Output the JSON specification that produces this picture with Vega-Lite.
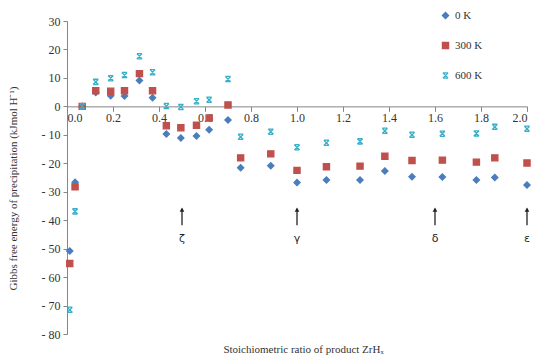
{
  "$schema": "https://vega.github.io/schema/vega-lite/v6.json",
  "width": 460,
  "height": 313,
  "autosize": {"type": "none"},
  "padding": {"left": 67, "top": 21, "right": 9, "bottom": 22},
  "background": "white",
  "config": {
    "view": {"stroke": null},
    "font": "Liberation Serif",
    "axis": {"grid": false, "domainColor": "#868686", "tickColor": "#868686", "labelColor": "#333333", "titleColor": "#333333", "labelFont": "Liberation Serif", "titleFont": "Liberation Serif", "titleFontWeight": "normal", "labelOverlap": false}
  },
  "datasets": {
    "points": [
      {"x": 0.012, "g": "0 K", "v": -50.8}, {"x": 0.035, "g": "0 K", "v": -26.7}, {"x": 0.066, "g": "0 K", "v": 0},
      {"x": 0.125, "g": "0 K", "v": 4.9}, {"x": 0.19, "g": "0 K", "v": 3.7}, {"x": 0.25, "g": "0 K", "v": 3.6},
      {"x": 0.315, "g": "0 K", "v": 9.1}, {"x": 0.372, "g": "0 K", "v": 3.0}, {"x": 0.432, "g": "0 K", "v": -9.7},
      {"x": 0.495, "g": "0 K", "v": -11.1}, {"x": 0.563, "g": "0 K", "v": -10.4}, {"x": 0.618, "g": "0 K", "v": -8.2},
      {"x": 0.7, "g": "0 K", "v": -4.8}, {"x": 0.755, "g": "0 K", "v": -21.6}, {"x": 0.886, "g": "0 K", "v": -20.9},
      {"x": 1.0, "g": "0 K", "v": -26.8}, {"x": 1.128, "g": "0 K", "v": -25.9}, {"x": 1.274, "g": "0 K", "v": -25.9},
      {"x": 1.382, "g": "0 K", "v": -22.7}, {"x": 1.5, "g": "0 K", "v": -24.7}, {"x": 1.632, "g": "0 K", "v": -24.8},
      {"x": 1.78, "g": "0 K", "v": -25.9}, {"x": 1.86, "g": "0 K", "v": -25.0}, {"x": 2.0, "g": "0 K", "v": -27.6},
      {"x": 0.012, "g": "300 K", "v": -55.2}, {"x": 0.035, "g": "300 K", "v": -28.3}, {"x": 0.066, "g": "300 K", "v": 0},
      {"x": 0.125, "g": "300 K", "v": 5.5}, {"x": 0.19, "g": "300 K", "v": 5.3}, {"x": 0.25, "g": "300 K", "v": 5.5},
      {"x": 0.315, "g": "300 K", "v": 11.5}, {"x": 0.372, "g": "300 K", "v": 5.5}, {"x": 0.432, "g": "300 K", "v": -6.8},
      {"x": 0.495, "g": "300 K", "v": -7.5}, {"x": 0.563, "g": "300 K", "v": -6.6}, {"x": 0.618, "g": "300 K", "v": -4.1},
      {"x": 0.7, "g": "300 K", "v": 0.5}, {"x": 0.755, "g": "300 K", "v": -18.1}, {"x": 0.886, "g": "300 K", "v": -16.7},
      {"x": 1.0, "g": "300 K", "v": -22.5}, {"x": 1.128, "g": "300 K", "v": -21.2}, {"x": 1.274, "g": "300 K", "v": -21.0},
      {"x": 1.382, "g": "300 K", "v": -17.5}, {"x": 1.5, "g": "300 K", "v": -19.0}, {"x": 1.632, "g": "300 K", "v": -18.9},
      {"x": 1.78, "g": "300 K", "v": -19.6}, {"x": 1.86, "g": "300 K", "v": -18.1}, {"x": 2.0, "g": "300 K", "v": -19.9},
      {"x": 0.012, "g": "600 K", "v": -71.5}, {"x": 0.035, "g": "600 K", "v": -36.9}, {"x": 0.066, "g": "600 K", "v": 0},
      {"x": 0.125, "g": "600 K", "v": 8.6}, {"x": 0.19, "g": "600 K", "v": 9.9}, {"x": 0.25, "g": "600 K", "v": 11.0},
      {"x": 0.315, "g": "600 K", "v": 17.6}, {"x": 0.372, "g": "600 K", "v": 12.0}, {"x": 0.432, "g": "600 K", "v": 0.1},
      {"x": 0.495, "g": "600 K", "v": -0.2}, {"x": 0.563, "g": "600 K", "v": 1.8}, {"x": 0.618, "g": "600 K", "v": 2.3},
      {"x": 0.7, "g": "600 K", "v": 9.6}, {"x": 0.755, "g": "600 K", "v": -10.7}, {"x": 0.886, "g": "600 K", "v": -8.9},
      {"x": 1.0, "g": "600 K", "v": -14.4}, {"x": 1.128, "g": "600 K", "v": -12.8}, {"x": 1.274, "g": "600 K", "v": -12.3},
      {"x": 1.382, "g": "600 K", "v": -8.6}, {"x": 1.5, "g": "600 K", "v": -10.0}, {"x": 1.632, "g": "600 K", "v": -9.6},
      {"x": 1.78, "g": "600 K", "v": -9.5}, {"x": 1.86, "g": "600 K", "v": -7.2}, {"x": 2.0, "g": "600 K", "v": -7.9}
    ],
    "phases": [
      {"x": 0.5, "phase": "ζ"}, {"x": 1.0, "phase": "γ"}, {"x": 1.6, "phase": "δ"}, {"x": 2.0, "phase": "ε"}
    ]
  },
  "layer": [
    {
      "data": {"name": "points"},
      "mark": {"type": "point", "filled": true, "opacity": 1, "size": 38, "strokeWidth": 1.3},
      "encoding": {
        "x": {
          "field": "x", "type": "quantitative",
          "scale": {"domain": [0, 2], "nice": false, "zero": false},
          "axis": {
            "title": "Stoichiometric ratio of product ZrHₓ",
            "values": [0, 0.2, 0.4, 0.6, 0.8, 1.0, 1.2, 1.4, 1.6, 1.8, 2.0],
            "format": ".1f",
            "offset": {"expr": "scale('y', 0) - height"},
            "labelFontSize": 12,
            "labelPadding": 1,
            "labelOverlap": false,
            "tickSize": 5,
            "titleFontSize": 11,
            "titleBaseline": "middle",
            "titleY": 243,
            "titleX": 236
          }
        },
        "y": {
          "field": "v", "type": "quantitative",
          "scale": {"domain": [-80, 30], "nice": false, "zero": false},
          "axis": {
            "title": "Gibbs free energy of precipitation (kJmol H⁻¹)",
            "values": [-80, -70, -60, -50, -40, -30, -20, -10, 0, 10, 20, 30],
            "tickCount": 12,
            "labelOverlap": false,
            "labelExpr": "datum.value < 0 ? '- ' + abs(datum.value) : datum.label",
            "labelFontSize": 12,
            "labelPadding": 3,
            "tickSize": 4,
            "titleFontSize": 11,
            "titleAngle": -90,
            "titleBaseline": "middle",
            "titleX": -54,
            "titleY": 167
          }
        },
        "color": {
          "field": "g", "type": "nominal",
          "scale": {"domain": ["0 K", "300 K", "600 K"], "range": ["#4A7EBB", "#C0504D", "#38AFC8"]},
          "legend": {
            "title": null, "orient": "none", "legendX": 373, "legendY": -11,
            "padding": 0, "rowPadding": 17, "labelFont": "Liberation Serif", "labelFontSize": 11,
            "labelColor": "#333333", "labelOffset": 4, "symbolSize": 38, "symbolStrokeWidth": 1.3
          }
        },
        "stroke": {
          "field": "g", "type": "nominal",
          "scale": {"domain": ["0 K", "300 K", "600 K"], "range": ["#4A7EBB", "#C0504D", "#38AFC8"]},
          "legend": {
            "title": null, "orient": "none", "legendX": 373, "legendY": -11,
            "padding": 0, "rowPadding": 17, "labelFont": "Liberation Serif", "labelFontSize": 11,
            "labelColor": "#333333", "labelOffset": 4, "symbolSize": 38, "symbolStrokeWidth": 1.3
          }
        },
        "shape": {
          "field": "g", "type": "nominal",
          "scale": {"domain": ["0 K", "300 K", "600 K"], "range": ["diamond", "square", "M-0.85,-0.85L0.85,0.85M0.85,-0.85L-0.85,0.85M-0.85,-0.85H0.85M-0.85,0.85H0.85"]},
          "legend": {
            "title": null, "orient": "none", "legendX": 373, "legendY": -11,
            "padding": 0, "rowPadding": 17, "labelFont": "Liberation Serif", "labelFontSize": 11,
            "labelColor": "#333333", "labelOffset": 4, "symbolSize": 38, "symbolStrokeWidth": 1.3
          }
        }
      }
    },
    {
      "data": {"name": "phases"},
      "mark": {"type": "rule", "color": "#222222", "strokeWidth": 1.3},
      "encoding": {
        "x": {"field": "x", "type": "quantitative"},
        "y": {"datum": -41.8},
        "y2": {"datum": -36}
      }
    },
    {
      "data": {"name": "phases"},
      "mark": {"type": "point", "shape": "triangle-up", "filled": true, "color": "#222222", "size": 22, "opacity": 1},
      "encoding": {
        "x": {"field": "x", "type": "quantitative"},
        "y": {"datum": -36.3}
      }
    },
    {
      "data": {"name": "phases"},
      "mark": {"type": "text", "font": "DejaVu Sans", "fontSize": 11, "color": "#222222", "baseline": "middle"},
      "encoding": {
        "x": {"field": "x", "type": "quantitative"},
        "y": {"datum": -46.6},
        "text": {"field": "phase"}
      }
    }
  ]
}
